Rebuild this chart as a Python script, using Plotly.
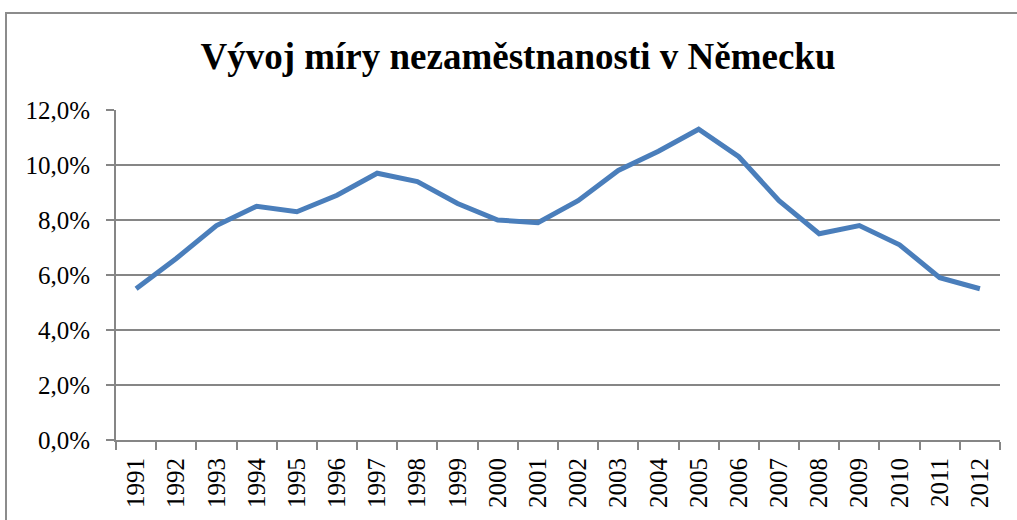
import plotly.graph_objects as go

years = [str(y) for y in range(1991, 2013)]
unemployment = [5.5, 6.6, 7.8, 8.5, 8.3, 8.9, 9.7, 9.4, 8.6, 8.0, 7.9,
                8.7, 9.8, 10.5, 11.3, 10.3, 8.7, 7.5, 7.8, 7.1, 5.9, 5.5]
y_ticks = [0, 2, 4, 6, 8, 10, 12]
y_tick_labels = ["0,0%", "2,0%", "4,0%", "6,0%", "8,0%", "10,0%", "12,0%"]
title_text = "Vývoj míry nezaměstnanosti v Německu"

W, H = 1017, 520
L, R, T, B = 116, 17, 110, 80
pw, ph = W - L - R, H - T - B

def px_x(p):
    return (p - L) / pw

def px_y(p):
    return (H - B - p) / ph

fig = go.Figure()
fig.add_trace(go.Scatter(
    x=years, y=unemployment, mode="lines",
    line=dict(color="#4A7EBB", width=5),
    hoverinfo="skip", showlegend=False,
))

grid_col = "#868686"
font_family = "Liberation Serif, Times New Roman, serif"

fig.update_layout(
    width=W, height=H,
    margin=dict(l=L, r=R, t=T, b=B, autoexpand=False),
    paper_bgcolor="white", plot_bgcolor="white",
    font=dict(family=font_family, size=25, color="black"),
    title=dict(
        text="<b>" + title_text + "</b>",
        x=518 / W, xanchor="center",
        y=1 - 56 / H, yanchor="middle",
        font=dict(family=font_family, size=37, color="black"),
    ),
    xaxis=dict(
        type="category",
        range=[-0.5, len(years) - 0.5],
        tickangle=-90,
        ticks="outside", ticklen=8, tickwidth=2, tickcolor=grid_col,
        tickson="boundaries",
        showline=True, linecolor=grid_col, linewidth=2,
        showgrid=False,
        automargin=False,
        ticklabelstandoff=6,
        tickfont=dict(family=font_family, size=25, color="black"),
    ),
    yaxis=dict(
        range=[0, 12],
        tickmode="array",
        tickvals=y_ticks,
        ticktext=y_tick_labels,
        ticks="outside", ticklen=8, tickwidth=2, tickcolor=grid_col,
        showline=True, linecolor=grid_col, linewidth=2,
        showgrid=True, gridcolor=grid_col, gridwidth=2,
        zeroline=False,
        automargin=False,
        ticklabelstandoff=11,
        tickfont=dict(family=font_family, size=25, color="black"),
    ),
    shapes=[dict(
        type="rect", xref="paper", yref="paper",
        x0=px_x(6), x1=px_x(1040), y0=px_y(560), y1=px_y(13),
        line=dict(color="#8c8c8c", width=2), fillcolor="rgba(0,0,0,0)",
        layer="below",
    )],
)

fig.write_html(
    "out.html",
    config={"displayModeBar": False},
    post_script="document.body.style.margin='0';document.body.style.padding='0';",
)
